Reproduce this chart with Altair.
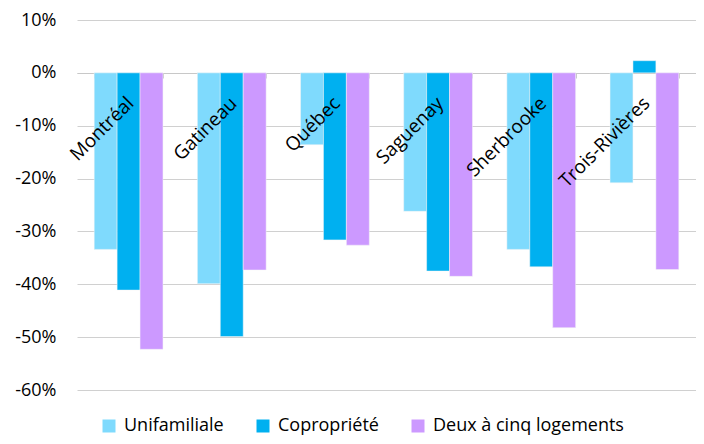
import altair as alt
import pandas as pd

cities = ["Montréal", "Gatineau", "Québec", "Saguenay", "Sherbrooke", "Trois-Rivières"]
series = ["Unifamiliale", "Copropriété", "Deux à cinq logements"]
unifamiliale = [-33.4, -39.9, -13.6, -26.2, -33.4, -20.8]
copropriete = [-41.1, -49.9, -31.6, -37.5, -36.7, 2.3]
deux_a_cinq = [-52.3, -37.3, -32.6, -38.5, -48.2, -37.2]
y_ticks = [10, 0, -10, -20, -30, -40, -50, -60]
colors = ["#7FDAFD", "#00B0F0", "#CC99FF"]

rows = []
for i, c in enumerate(cities):
    for s, vals in zip(series, [unifamiliale, copropriete, deux_a_cinq]):
        rows.append({"city": c, "series": s, "value": vals[i]})
df = pd.DataFrame(rows)
labels_df = pd.DataFrame({"city": cities})

FONT = "Open Sans"

x_scale = alt.Scale(domain=cities, paddingInner=1/3, paddingOuter=1/6)
x_axis = alt.Axis(
    title=None, labels=False, orient="bottom", offset=-317,
    tickBand="extent", ticks=True, tickSize=5, tickColor="#C8C8C8",
    domain=True, domainColor="#C8C8C8", domainWidth=1, grid=False,
)

bars = alt.Chart(df).mark_bar(stroke="#F4F4F4", strokeWidth=0.5).encode(
    x=alt.X("city:N", scale=x_scale, axis=x_axis, sort=cities),
    xOffset=alt.XOffset("series:N", sort=series,
                        scale=alt.Scale(domain=series, paddingInner=0, paddingOuter=0)),
    y=alt.Y("value:Q",
            scale=alt.Scale(domain=[-60, 10], nice=False, zero=True),
            axis=alt.Axis(title=None, values=y_ticks, labelExpr="datum.value + '%'",
                          grid=True, gridColor="#D0D0D0", gridWidth=1,
                          domain=False, ticks=False, labelPadding=21,
                          labelFont=FONT, labelFontSize=18, labelColor="#000000")),
    color=alt.Color("series:N", sort=series,
                    scale=alt.Scale(domain=series, range=colors),
                    legend=alt.Legend(title=None, orient="none", direction="horizontal",
                                      legendX=23, legendY=397, symbolType="square",
                                      symbolSize=169, symbolStrokeWidth=0,
                                      labelFont=FONT, labelFontSize=18, labelColor="#000000",
                                      labelOffset=6, columnPadding=30, padding=0,
                                      labelLimit=400)),
)

text = alt.Chart(labels_df).mark_text(
    angle=315, align="right", baseline="alphabetic", dx=-18, dy=27,
    font=FONT, fontSize=19, color="#000000",
).encode(
    x=alt.X("city:N", scale=x_scale, sort=cities),
    y=alt.datum(0),
    text="city:N",
)

chart = alt.layer(bars, text).properties(
    width=619, height=370,
    autosize=alt.AutoSizeParams(type="none"),
    padding={"left": 69, "top": 12, "right": 0, "bottom": 46},
).configure_view(stroke=None)

chart.save("out.html", embed_options={"renderer": "svg", "actions": False})
